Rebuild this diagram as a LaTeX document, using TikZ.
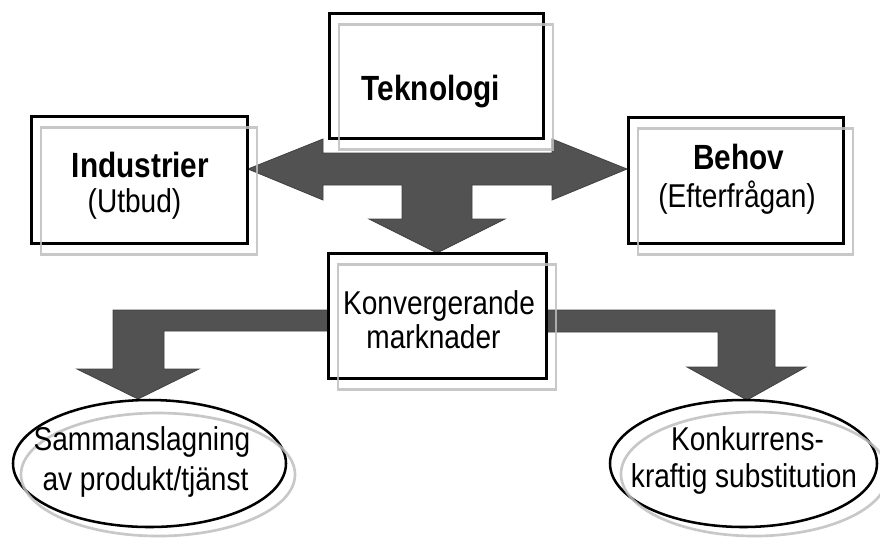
\documentclass[tikz,border=0pt]{standalone}
\usepackage{fontspec}
\setmainfont{Liberation Sans}[FakeStretch=0.85]
\usetikzlibrary{shapes.geometric,calc}
\newdimen\pxu \pxu=0.75pt
\definecolor{arrowfill}{RGB}{82,82,82}
\definecolor{shadegray}{RGB}{190,190,190}
\begin{document}
\begin{tikzpicture}[x=0.75pt, y=-0.75pt,
  boxnode/.style={rectangle, draw=black, fill=white, line width=2.25pt, inner sep=0pt, outer sep=0pt},
  ovalnode/.style={ellipse, draw=black, fill=white, line width=1.9pt, inner sep=0pt, outer sep=0pt},
  shadeline/.style={draw=shadegray, line width=2pt, draw opacity=0.85},
  arrowbody/.style={fill=arrowfill, draw=black!75, line width=0.6pt, line join=miter},
  headtext/.style={font=\fontsize{26.25}{30}\selectfont\bfseries, inner sep=0pt, anchor=base},
  subtext/.style={font=\fontsize{24.75}{28}\selectfont, inner sep=0pt, anchor=base}]

\useasboundingbox (0,0) rectangle (880,537);

% block arrows: double arrow with downward branch, and the two outgoing bent arrows
\path[arrowbody] (248,169) -- (323,139) -- (323,153) -- (552,153) -- (552,139) -- (627,169)
  -- (552,200) -- (552,185) -- (472,185) -- (472,219) -- (505,219) -- (437,253)
  -- (369,219) -- (402,219) -- (402,185) -- (323,185) -- (323,200) -- cycle;
\path[arrowbody] (328,310) -- (113,310) -- (113,369) -- (77,369) -- (138,399)
  -- (199,369) -- (164,369) -- (164,331) -- (328,331) -- cycle;
\path[arrowbody] (546,310) -- (775,310) -- (775,367) -- (806,367) -- (747,400)
  -- (687,367) -- (718,367) -- (718,332) -- (546,332) -- cycle;

% boxes
\node[boxnode, minimum width=214\pxu, minimum height=125\pxu] (tek) at (436,75.5) {};
\node[boxnode, minimum width=216\pxu, minimum height=127\pxu] (ind) at (139,179.5) {};
\node[boxnode, minimum width=215\pxu, minimum height=126\pxu] (beh) at (735.5,180) {};
\node[boxnode, minimum width=218\pxu, minimum height=125\pxu] (konv) at (437,315.5) {};

\foreach \b in {tek,ind,beh,konv}
  \draw[shadeline] ($(\b.north west)+(10,11.5)$) rectangle ($(\b.south east)+(10,11.5)$);

% ovals
\node[ovalnode, minimum width=273\pxu, minimum height=127\pxu] (sam) at (149.5,463.5) {};
\node[ovalnode, minimum width=267\pxu, minimum height=127\pxu] (kon) at (743.5,463.5) {};
\draw[shadeline] ($(sam.center)+(8.5,11)$) ellipse [x radius=137, y radius=61.5];
\draw[shadeline] ($(kon.center)+(11,10.5)$) ellipse [x radius=133.5, y radius=62];

% texts
\node[headtext] (tekA) at (431,100) {Teknologi};
\node[headtext] (indA) at (140.5,177) {Industrier};
\node[subtext]  (indB) at (134.5,212) {(Utbud)};
\node[headtext] (behA) at (738.5,169) {Behov};
\node[subtext]  (behB) at (737,207) {(Efterfrågan)};
\node[subtext]  (konvA) at (439,314) {Konvergerande};
\node[subtext]  (konvB) at (433.5,348) {marknader};
\node[subtext]  (samA) at (142,450) {Sammanslagning};
\node[subtext]  (samB) at (145.5,490) {av produkt/tjänst};
\node[subtext]  (konA) at (747.5,450) {Konkurrens-};
\node[subtext]  (konB) at (744,487) {kraftig substitution};
\end{tikzpicture}
\end{document}
